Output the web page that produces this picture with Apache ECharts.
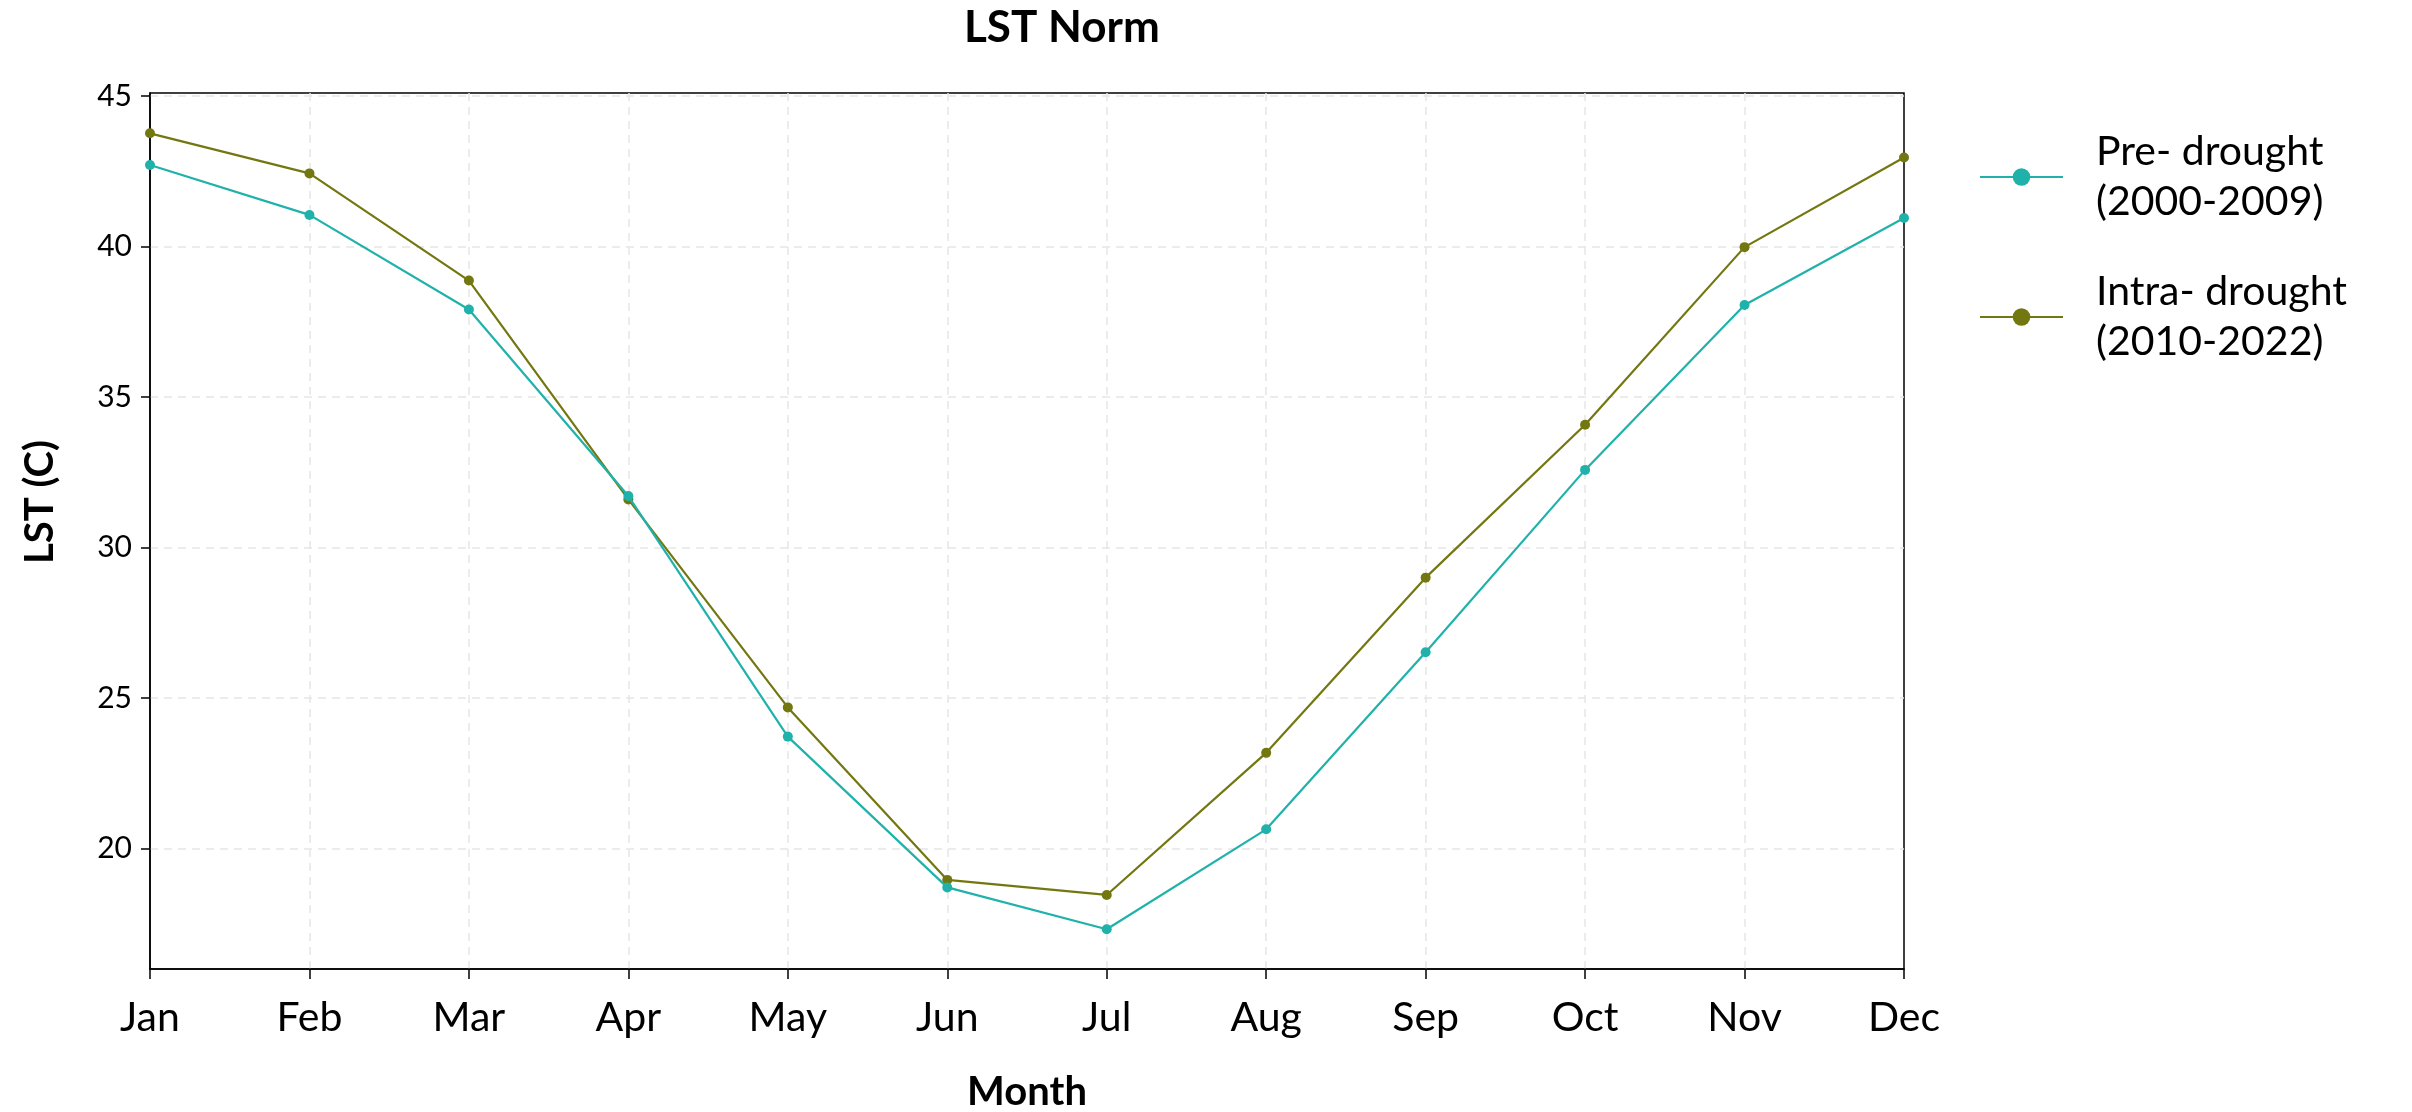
<!DOCTYPE html>
<html>
<head>
<meta charset="utf-8">
<script src="https://cdn.jsdelivr.net/npm/echarts@6/dist/echarts.min.js"></script>
<style>
html,body{margin:0;padding:0;background:#fff;}
#chart{width:2412px;height:1112px;}
</style>
</head>
<body>
<div id="chart"></div>
<script>
const months = ['Jan','Feb','Mar','Apr','May','Jun','Jul','Aug','Sep','Oct','Nov','Dec'];
const preDrought = [42.71, 41.05, 37.91, 31.71, 23.72, 18.71, 17.32, 20.64, 26.52, 32.58, 38.06, 40.95];
const intraDrought = [43.76, 42.43, 38.87, 31.60, 24.69, 18.96, 18.46, 23.18, 29.00, 34.08, 39.98, 42.96];
const yTicks = [20, 25, 30, 35, 40, 45];
const seriesNames = ['Pre- drought\n(2000-2009)', 'Intra- drought\n(2010-2022)'];
const titleText = 'LST Norm';
const xName = 'Month';
const yName = 'LST (C)';

const FONT = 'Lato';
const teal = '#20b2aa';
const olive = '#737710';
const gridColor = '#e6e6e6';

const chart = echarts.init(document.getElementById('chart'));
chart.setOption({
  backgroundColor: '#fff',
  animation: false,
  title: {
    text: titleText,
    left: 959,
    top: 1,
    textStyle: {fontFamily: FONT, fontSize: 44, fontWeight: 'bold', color: '#000'}
  },
  legend: {
    orient: 'vertical',
    left: 1974,
    top: 122,
    itemWidth: 83,
    itemHeight: 22,
    itemGap: 40,
    data: seriesNames,
    textStyle: {fontFamily: FONT, fontSize: 41, color: '#000', lineHeight: 50, padding: [0, 0, 0, 28]}
  },
  grid: {
    left: 150, right: 508, top: 93, bottom: 143,
    show: true, borderColor: '#000', borderWidth: 1.5,
    containLabel: false,
    outerBoundsMode: 'none'
  },
  xAxis: {
    type: 'category',
    data: months,
    boundaryGap: false,
    name: xName,
    nameLocation: 'middle',
    nameGap: 103,
    nameTextStyle: {fontFamily: FONT, fontSize: 40, fontWeight: 'bold', color: '#000'},
    axisLine: {show: true, lineStyle: {color: '#000', width: 1.5}},
    axisTick: {show: true, length: 10, inside: false, lineStyle: {color: '#000', width: 1.5}},
    axisLabel: {fontFamily: FONT, fontSize: 41, color: '#000', margin: 28, interval: 0},
    splitLine: {
      show: true,
      interval: function (index) { return index > 0 && index < months.length - 1; },
      lineStyle: {color: gridColor, width: 1.5, type: [8, 6]}
    }
  },
  yAxis: {
    type: 'value',
    min: 16,
    max: 45.1,
    name: yName,
    nameLocation: 'middle',
    nameGap: 90,
    nameRotate: 90,
    nameTextStyle: {fontFamily: FONT, fontSize: 40, fontWeight: 'bold', color: '#000', padding: [0, 0, 0, 58]},
    axisLine: {show: true, lineStyle: {color: '#000', width: 1.5}},
    axisTick: {show: true, length: 9, inside: false, customValues: yTicks, lineStyle: {color: '#000', width: 1.5}},
    axisLabel: {fontFamily: FONT, fontSize: 30, color: '#000', margin: 18, customValues: yTicks},
    splitLine: {show: true, lineStyle: {color: gridColor, width: 1.5, type: [8, 6]}}
  },
  series: [
    {
      name: seriesNames[0],
      type: 'line',
      data: preDrought,
      z: 3,
      symbol: 'circle',
      symbolSize: 10,
      itemStyle: {color: teal},
      lineStyle: {color: teal, width: 2.2}
    },
    {
      name: seriesNames[1],
      type: 'line',
      data: intraDrought,
      z: 2,
      symbol: 'circle',
      symbolSize: 10,
      itemStyle: {color: olive},
      lineStyle: {color: olive, width: 2.2}
    }
  ]
});
</script>
</body>
</html>
